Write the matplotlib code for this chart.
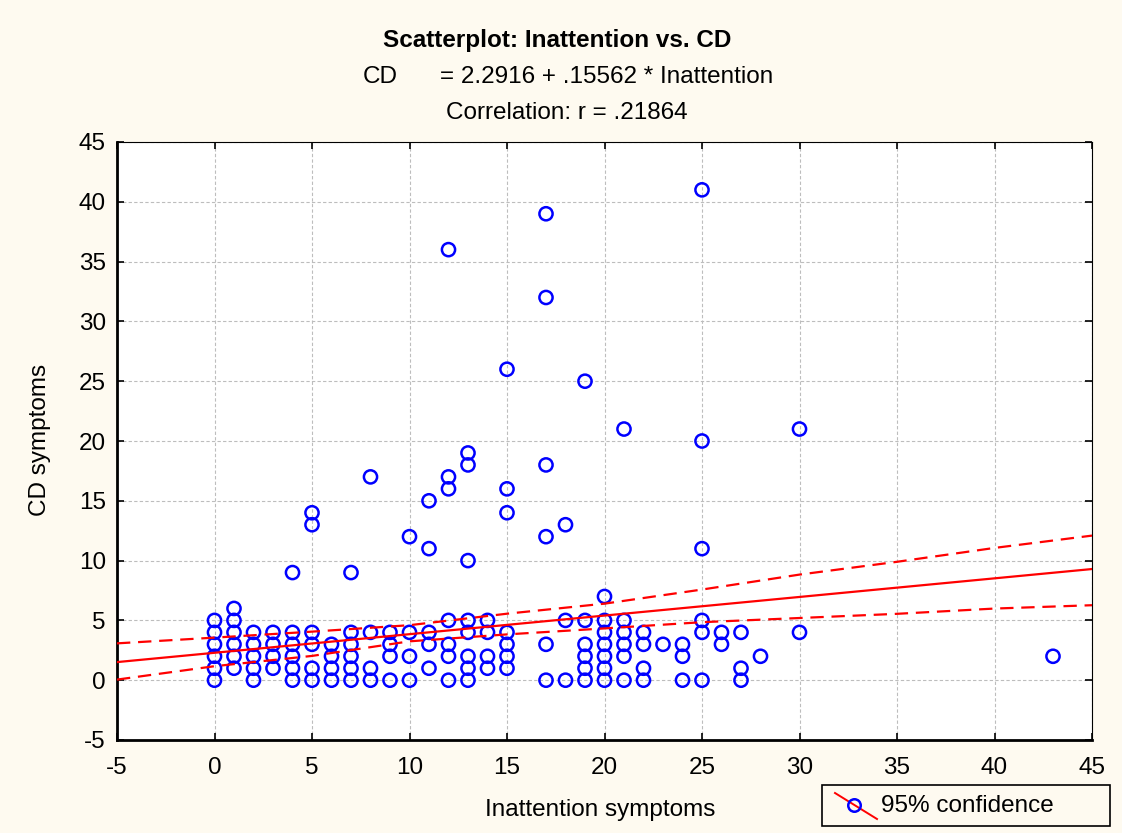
import matplotlib
matplotlib.use("Agg")
import matplotlib.pyplot as plt
from matplotlib.patches import Rectangle
from matplotlib.lines import Line2D
import numpy as np

plt.rcParams['font.family'] = ['Liberation Sans', 'DejaVu Sans']
plt.rcParams['axes.unicode_minus'] = False

# ---- data ----
inattention = (
    [0]*6 + [1]*6 + [2]*5 + [3]*4 + [4]*6 + [5]*6 + [6]*4 + [7]*6 + [8]*4 + [9]*4
    + [10]*4 + [11]*5 + [12]*7 + [13]*8 + [14]*4 + [15]*7 + [17]*6 + [18]*3
    + [19]*6 + [20]*7 + [21]*6 + [22]*4 + [23] + [24]*3 + [25]*6 + [26]*2
    + [27]*3 + [28] + [30]*2 + [43]
)
cd = (
    [0, 1, 2, 3, 4, 5]            # 0
    + [1, 2, 3, 4, 5, 6]          # 1
    + [0, 1, 2, 3, 4]             # 2
    + [1, 2, 3, 4]                # 3
    + [0, 1, 2, 3, 4, 9]          # 4
    + [0, 1, 3, 4, 13, 14]        # 5
    + [0, 1, 2, 3]                # 6
    + [0, 1, 2, 3, 4, 9]          # 7
    + [0, 1, 4, 17]               # 8
    + [0, 2, 3, 4]                # 9
    + [0, 2, 4, 12]               # 10
    + [1, 3, 4, 11, 15]           # 11
    + [0, 2, 3, 5, 16, 17, 36]    # 12
    + [0, 1, 2, 4, 5, 10, 18, 19] # 13
    + [1, 2, 4, 5]                # 14
    + [1, 2, 3, 4, 14, 16, 26]    # 15
    + [0, 3, 12, 18, 32, 39]      # 17
    + [0, 5, 13]                  # 18
    + [0, 1, 2, 3, 5, 25]         # 19
    + [0, 1, 2, 3, 4, 5, 7]       # 20
    + [0, 2, 3, 4, 5, 21]         # 21
    + [0, 1, 3, 4]                # 22
    + [3]                         # 23
    + [0, 2, 3]                   # 24
    + [0, 4, 5, 11, 20, 41]       # 25
    + [3, 4]                      # 26
    + [0, 1, 4]                   # 27
    + [2]                         # 28
    + [4, 21]                     # 30
    + [2]                         # 43
)

intercept = 2.2916
slope = 0.15562

band_x = [-5, 0, 5, 10, 15, 20, 25, 30, 35, 40, 45]
band_upper = [3.08, 3.56, 4.06, 4.60, 5.56, 6.40, 7.58, 8.83, 9.90, 11.06, 12.09]
band_lower = [0.05, 1.17, 2.03, 3.25, 3.83, 4.33, 4.85, 5.20, 5.55, 5.99, 6.27]

xticks = [-5, 0, 5, 10, 15, 20, 25, 30, 35, 40, 45]
yticks = [-5, 0, 5, 10, 15, 20, 25, 30, 35, 40, 45]

FS = 17.5

# ---- figure ----
W, H = 1122, 833
fig = plt.figure(figsize=(W/100, H/100), dpi=100)
fig.patch.set_facecolor('#FEFAF0')
ax = fig.add_axes([117/W, 1-740/H, (1092-117)/W, (740-142)/H])
ax.set_facecolor('white')

ax.set_xlim(-5, 45)
ax.set_ylim(-5, 45)
ax.set_xticks(xticks)
ax.set_yticks(yticks)
ax.grid(True, color='#BDBDBD', linestyle=(0, (3, 2)), linewidth=0.8)
ax.set_axisbelow(True)

ax.scatter(inattention, cd, s=90, facecolors='none', edgecolors='#0000FF',
           linewidths=1.8, zorder=3)

xl = np.array([-5, 45])
ax.plot(xl, intercept + slope*xl, color='#FF0000', lw=1.6, zorder=4)
ax.plot(band_x, band_upper, color='#FF0000', lw=1.6, linestyle=(0, (6, 3.5)), zorder=4)
ax.plot(band_x, band_lower, color='#FF0000', lw=1.6, linestyle=(0, (6, 3.5)), zorder=4)

ax.tick_params(direction='in', length=5, width=1.2, labelsize=FS, color='black',
               top=True, right=True)
ax.tick_params(axis='x', pad=12)
ax.tick_params(axis='y', pad=8)
for s in ['left', 'bottom']:
    ax.spines[s].set_linewidth(2)
for s in ['top', 'right']:
    ax.spines[s].set_linewidth(0.8)

ax.set_xlabel('Inattention symptoms', fontsize=FS, va='center')
ax.xaxis.set_label_coords((600-117)/975, (740-810)/598)
ax.set_ylabel('CD symptoms', fontsize=FS, va='center')
ax.yaxis.set_label_coords((40-117)/975, (740-440)/598)

fig.text(557/W, 1-41/H, 'Scatterplot: Inattention vs. CD', ha='center', va='center',
         fontsize=FS, fontweight='bold')
fig.text(380/W, 1-77/H, 'CD', ha='center', va='center', fontsize=FS)
fig.text(440/W, 1-77/H, '= 2.2916 + .15562 * Inattention', ha='left', va='center', fontsize=FS)
fig.text(567/W, 1-113/H, 'Correlation: r = .21864', ha='center', va='center', fontsize=FS)

# legend box
fig.patches.append(Rectangle((822/W, 1-826/H), 288/W, 41/H, transform=fig.transFigure,
                             facecolor='none', edgecolor='black', lw=1.2))
fig.lines.append(Line2D([835/W, 877/W], [1-793/H, 1-819/H], transform=fig.transFigure,
                        color='#FF0000', lw=1.4))
fig.lines.append(Line2D([854/W], [1-805/H], transform=fig.transFigure, marker='o',
                        markersize=9, markerfacecolor='none', markeredgecolor='#0000FF',
                        markeredgewidth=1.8))
fig.text(881/W, 1-806/H, '95% confidence', ha='left', va='center', fontsize=FS)

fig.savefig('out.png', dpi=100, facecolor=fig.get_facecolor())
